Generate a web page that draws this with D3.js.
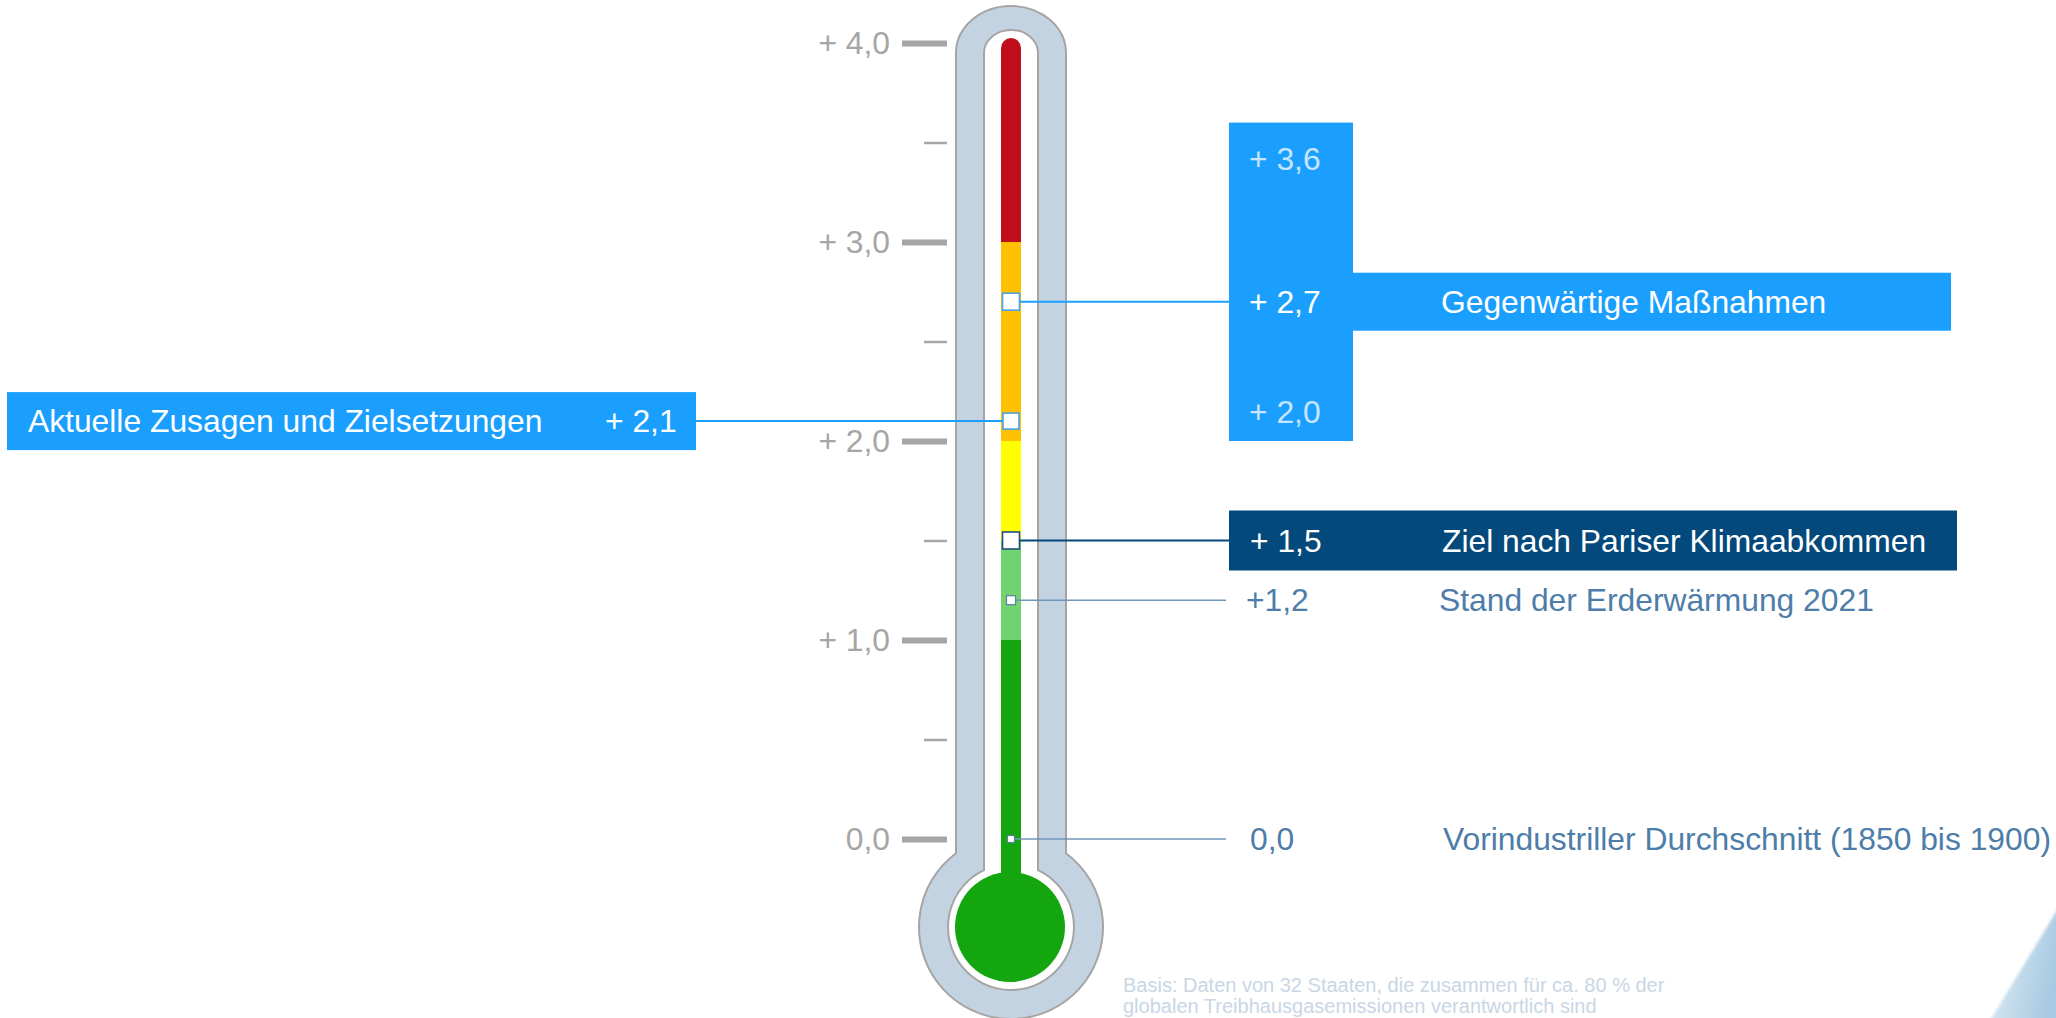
<!DOCTYPE html>
<html lang="de">
<head>
<meta charset="utf-8">
<title>Erderwärmung – Szenarien</title>
<script src="https://cdn.jsdelivr.net/npm/d3@7"></script>
<style>
  html, body { margin: 0; padding: 0; background: #ffffff; }
  svg { display: block; font-family: "Liberation Sans", Arial, sans-serif; }
</style>
</head>
<body>
<svg id="chart" width="2056" height="1018"></svg>
<script>
// ---- data ----
const majorTicks = [0, 1, 2, 3, 4];
const majorTickLabels = ["0,0", "+ 1,0", "+ 2,0", "+ 3,0", "+ 4,0"];
const minorTicks = [0.5, 1.5, 2.5, 3.5];

// colour bands of the thermometer column (lower bounds .. upper bounds)
const bandBreaks = [0, 1.0, 1.5, 2.0, 3.0, 4.0];

const scenarioNames = [
  "Gegenwärtige Maßnahmen",
  "Aktuelle Zusagen und Zielsetzungen",
  "Ziel nach Pariser Klimaabkommen",
  "Stand der Erderwärmung 2021",
  "Vorindustriller Durchschnitt (1850 bis 1900)"
];
const scenarioValues = [2.7, 2.1, 1.5, 1.2, 0.0];
const scenarioValueLabels = ["+ 2,7", "+ 2,1", "+ 1,5", "+1,2", "0,0"];

// range of outcomes under current policies
const policyRange = [2.0, 3.6];
const policyRangeLabels = ["+ 2,0", "+ 3,6"];

const footnoteLines = [
  "Basis: Daten von 32 Staaten, die zusammen für ca. 80 % der",
  "globalen Treibhausgasemissionen verantwortlich sind"
];

// ---- styling ----
const bandColors = ["#13a60f", "#71d36f", "#ffff00", "#ffc000", "#c00d1a"];
const boxBlue = "#1a9fff";
const boxNavy = "#03497c";
const steel = "#4d7da8";
const axisGrey = "#a6a6a6";
const fontSize = 31.8;

const svg = d3.select("#chart");
const y = d3.scaleLinear().domain([0, 4]).range([839, 43]);

const cx = 1011;                 // thermometer centre line
const bulb = { cy: 927, rOuter: 92, rInner: 63, rFill: 55 };

// ---- decoration in the lower right corner ----
const defs = svg.append("defs");
const deco = defs.append("linearGradient").attr("id", "decoGrad")
  .attr("x1", "0").attr("y1", "0").attr("x2", "1").attr("y2", "0.3");
deco.append("stop").attr("offset", "0").attr("stop-color", "#f4f8fb");
deco.append("stop").attr("offset", "0.35").attr("stop-color", "#cfe2ef");
deco.append("stop").attr("offset", "1").attr("stop-color", "#a7c9e1");
defs.append("filter").attr("id", "soft")
  .append("feGaussianBlur").attr("stdDeviation", 1.6);
svg.append("path")
  .attr("d", "M2062,902 L2062,1024 L1988,1024 Z")
  .attr("fill", "url(#decoGrad)")
  .attr("filter", "url(#soft)");

// ---- thermometer body ----
function bodyPath(halfW, sideTop, capH, r) {
  const xl = cx - halfW, xr = cx + halfW;
  const yj = bulb.cy - Math.sqrt(r * r - halfW * halfW);
  return `M${xl},${yj} L${xl},${sideTop} A${halfW},${capH} 0 0 1 ${xr},${sideTop} ` +
         `L${xr},${yj} A${r},${r} 0 1 1 ${xl},${yj} Z`;
}
svg.append("path")
  .attr("d", bodyPath(55, 53, 47, bulb.rOuter))
  .attr("fill", "#c3d3e2").attr("stroke", "#a5a5a5").attr("stroke-width", 2);
svg.append("path")
  .attr("d", bodyPath(27, 53, 23, bulb.rInner))
  .attr("fill", "#ffffff").attr("stroke", "#a5a5a5").attr("stroke-width", 2);

// ---- coloured column ----
const colW = 20;
const colTop = y(4) - 5;
defs.append("clipPath").attr("id", "colClip")
  .append("rect")
  .attr("x", cx - colW / 2).attr("y", colTop)
  .attr("width", colW).attr("height", bulb.cy - colTop)
  .attr("rx", colW / 2);

const bands = d3.pairs(bandBreaks).map((p, i) => ({ lo: p[0], hi: p[1], color: bandColors[i] }));
svg.append("g").attr("clip-path", "url(#colClip)")
  .selectAll("rect").data(bands).join("rect")
  .attr("x", cx - colW / 2)
  .attr("width", colW)
  .attr("y", d => d.hi === 4 ? colTop : y(d.hi))
  .attr("height", d => (d.lo === 0 ? bulb.cy : y(d.lo)) - (d.hi === 4 ? colTop : y(d.hi)))
  .attr("fill", d => d.color);

svg.append("circle")
  .attr("cx", cx - 1).attr("cy", bulb.cy).attr("r", bulb.rFill)
  .attr("fill", bandColors[0]);

// ---- scale on the left ----
const axisX = 947;
const majorAxis = d3.axisLeft(y)
  .tickValues(majorTicks)
  .tickSize(45)
  .tickPadding(12)
  .tickFormat((d, i) => majorTickLabels[i]);
const gMajor = svg.append("g").attr("transform", `translate(${axisX},0)`).call(majorAxis);
gMajor.select(".domain").remove();
gMajor.selectAll(".tick line").attr("stroke", axisGrey).attr("stroke-width", 6);
gMajor.selectAll(".tick text")
  .attr("fill", axisGrey)
  .style("font-size", fontSize + "px")
  .style("font-family", "'Liberation Sans', Arial, sans-serif");

const minorAxis = d3.axisLeft(y).tickValues(minorTicks).tickSize(23).tickFormat("");
const gMinor = svg.append("g").attr("transform", `translate(${axisX},0)`).call(minorAxis);
gMinor.select(".domain").remove();
gMinor.selectAll(".tick line").attr("stroke", axisGrey).attr("stroke-width", 2.5);

// ---- scenario annotations ----
const scenarioStyle = [
  { side: "right", line: boxBlue, lineW: 2, marker: 17, mStroke: "#4aa3e6", fromX: 1229 },
  { side: "left",  line: boxBlue, lineW: 2, marker: 16, mStroke: "#4aa3e6", fromX: 696 },
  { side: "right", line: boxNavy, lineW: 2, marker: 17, mStroke: "#1f4e79", fromX: 1229 },
  { side: "right", line: "#7096b8", lineW: 1.5, marker: 9, mStroke: "#5a7fa0", fromX: 1226 },
  { side: "right", line: "#7096b8", lineW: 1.5, marker: 7, mStroke: "#5a7fa0", fromX: 1226 }
];
const scenarios = scenarioNames.map((name, i) => ({
  name, value: scenarioValues[i], label: scenarioValueLabels[i], ...scenarioStyle[i]
}));

// leader lines
svg.append("g").selectAll("line").data(scenarios).join("line")
  .attr("x1", d => d.fromX)
  .attr("x2", d => d.side === "right" ? cx + d.marker / 2 : cx - d.marker / 2)
  .attr("y1", d => y(d.value)).attr("y2", d => y(d.value))
  .attr("stroke", d => d.line).attr("stroke-width", d => d.lineW);

// boxes
const boxH = 58;
svg.append("rect")      // range under current policies
  .attr("x", 1229).attr("width", 124)
  .attr("y", y(policyRange[1])).attr("height", y(policyRange[0]) - y(policyRange[1]))
  .attr("fill", boxBlue);
svg.append("rect")      // current policies
  .attr("x", 1353).attr("width", 598)
  .attr("y", y(scenarioValues[0]) - boxH / 2).attr("height", boxH)
  .attr("fill", boxBlue);
svg.append("rect")      // pledges and targets
  .attr("x", 7).attr("width", 689)
  .attr("y", y(scenarioValues[1]) - boxH / 2).attr("height", boxH)
  .attr("fill", boxBlue);
svg.append("rect")      // Paris target
  .attr("x", 1229).attr("width", 728)
  .attr("y", y(scenarioValues[2]) - 30).attr("height", 60)
  .attr("fill", boxNavy);

// markers on the column
svg.append("g").selectAll("rect").data(scenarios).join("rect")
  .attr("x", d => cx - d.marker / 2)
  .attr("y", d => y(d.value) - d.marker / 2)
  .attr("width", d => d.marker).attr("height", d => d.marker)
  .attr("fill", "#ffffff")
  .attr("stroke", d => d.mStroke).attr("stroke-width", d => d.marker > 10 ? 1.6 : 1.2);

// texts
const textLayer = svg.append("g").style("font-size", fontSize + "px");
const capShift = 11;
const textSpec = [
  { valueX: 1249, nameX: 1441, color: "#ffffff" },
  { valueX: 605,  nameX: 28,   color: "#ffffff" },
  { valueX: 1250, nameX: 1442, color: "#ffffff" },
  { valueX: 1246, nameX: 1439, color: steel },
  { valueX: 1250, nameX: 1443, color: steel }
];
scenarios.forEach((d, i) => {
  const t = textSpec[i];
  textLayer.append("text")
    .attr("x", t.valueX).attr("y", y(d.value) + capShift)
    .attr("fill", t.color).text(d.label);
  textLayer.append("text")
    .attr("x", t.nameX).attr("y", y(d.value) + capShift)
    .attr("fill", t.color).text(d.name);
});

// range end labels inside the tall box
textLayer.append("text")
  .attr("x", 1249).attr("y", y(policyRange[1]) + 47)
  .attr("fill", "#c8e4ff").text(policyRangeLabels[1]);
textLayer.append("text")
  .attr("x", 1249).attr("y", y(policyRange[0]) - 18)
  .attr("fill", "#c8e4ff").text(policyRangeLabels[0]);

// source note
svg.append("g").selectAll("text").data(footnoteLines).join("text")
  .attr("x", 1123).attr("y", (d, i) => 992 + i * 21)
  .attr("fill", "#c9d6e5")
  .style("font-size", "20px")
  .text(d => d);
</script>
</body>
</html>
